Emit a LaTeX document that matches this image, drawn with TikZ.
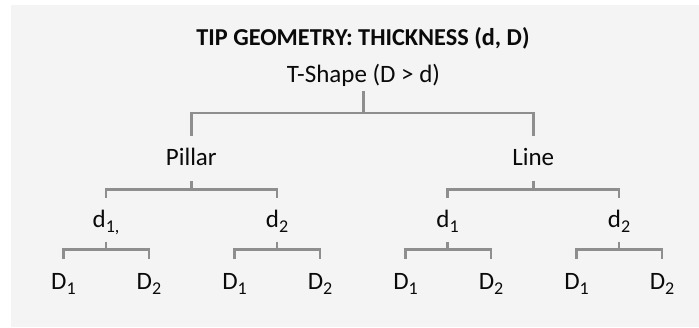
\documentclass[tikz,border=0pt]{standalone}
\usepackage{fontspec}
\setmainfont{Carlito}
\definecolor{bgc}{HTML}{F4F4F4}
\definecolor{linec}{HTML}{8E8E8E}
\definecolor{txtc}{HTML}{0A0A0A}
\newcommand{\sbs}[1]{\raisebox{-5.3pt}{\fontsize{18}{18}\selectfont #1}}
\begin{document}
\begin{tikzpicture}[x=1pt,y=-1pt,
  lbl/.style={anchor=base,inner sep=0pt,outer sep=0pt,text=txtc,font=\fontsize{25}{28}\selectfont},
  ttl/.style={lbl,font=\fontsize{24.3}{27}\selectfont\bfseries},
  conn/.style={draw=linec,line width=2.6pt}]
\useasboundingbox (0,0) rectangle (699,327);
\fill[bgc] (11,5) rectangle (698.6,327);
% labels
\node[ttl] (title) at (363,45) {TIP GEOMETRY: THICKNESS (d, D)};
\node[lbl] (root) at (363.5,82.7) {T-Shape (D > d)};
\node[lbl] (pillar) at (191.3,165) {Pillar};
\node[lbl] (line) at (533.3,165) {Line};
\node[lbl] (pd1) at (106,227) {d\sbs{1,}};
\node[lbl] (pd2) at (277,227) {d\sbs{2}};
\node[lbl] (ld1) at (447.5,227) {d\sbs{1}};
\node[lbl] (ld2) at (619,227) {d\sbs{2}};
\node[lbl] (a1) at (63.5,289) {D\sbs{1}};
\node[lbl] (a2) at (149,289) {D\sbs{2}};
\node[lbl] (b1) at (234.5,289) {D\sbs{1}};
\node[lbl] (b2) at (320,289) {D\sbs{2}};
\node[lbl] (c1) at (405.5,289) {D\sbs{1}};
\node[lbl] (c2) at (491,289) {D\sbs{2}};
\node[lbl] (e1) at (576.5,289) {D\sbs{1}};
\node[lbl] (e2) at (662,289) {D\sbs{2}};
% connectors
\newcommand{\branch}[6]{%
  \draw[conn] (#1 |- 0,#4) -- (#1 |- 0,#5);
  \draw[conn] (#2 |- 0,#6) -- (#2 |- 0,#5) -- (#3 |- 0,#5) -- (#3 |- 0,#6);}
\branch{root}{pillar}{line}{90.7}{113}{136}
\branch{pillar}{pd1}{pd2}{180.7}{189.7}{197.5}
\branch{line}{ld1}{ld2}{180.7}{189.7}{197.5}
\branch{pd1}{a1}{a2}{241.7}{249.7}{259}
\branch{pd2}{b1}{b2}{241.7}{249.7}{259}
\branch{ld1}{c1}{c2}{241.7}{249.7}{259}
\branch{ld2}{e1}{e2}{241.7}{249.7}{259}
\end{tikzpicture}
\end{document}
